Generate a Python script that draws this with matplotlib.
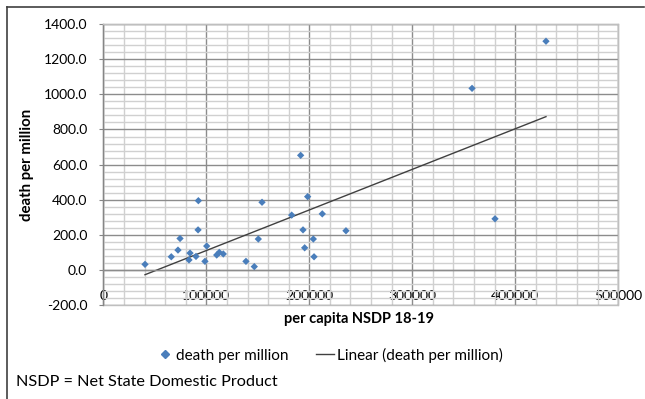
import numpy as np
import matplotlib
matplotlib.use("Agg")
import matplotlib.pyplot as plt
from matplotlib.ticker import MultipleLocator, FuncFormatter
from matplotlib.lines import Line2D

plt.rcParams['font.family'] = ['Lato', 'DejaVu Sans']

# per capita NSDP 18-19
nsdp = [40500, 66000, 72500, 74500, 83200, 84200, 90000, 92000, 92300, 98700,
        100400, 110100, 112600, 116500, 138500, 146600, 150500, 154100, 182900, 191600,
        193900, 195500, 198400, 203900, 204600, 212600, 235600, 358000, 380300, 429800]
# death per million
deaths = [33, 76, 114, 180, 58, 97, 78, 229, 395, 50,
          137, 86, 101, 92, 50, 20, 177, 386, 313, 653,
          229, 127, 418, 177, 76, 320, 224, 1034, 292, 1302]

x_label = "per capita NSDP 18-19"
y_label = "death per million"
series_name = "death per million"
trend_name = "Linear (death per million)"
footnote = "NSDP = Net State Domestic Product"

W, H = 645, 399
fig = plt.figure(figsize=(W / 100, H / 100), dpi=100)
ax = fig.add_axes([103.3 / W, 1 - 305.3 / H, (618.3 - 103.3) / W, (305.3 - 24) / H])

x = np.array(nsdp, dtype=float)
y = np.array(deaths, dtype=float)

ax.set_xlim(0, 500000)
ax.set_ylim(-200, 1400)

ax.xaxis.set_major_locator(MultipleLocator(100000))
ax.xaxis.set_minor_locator(MultipleLocator(20000))
ax.yaxis.set_major_locator(MultipleLocator(200))
ax.yaxis.set_minor_locator(MultipleLocator(40))

ax.grid(which='minor', color='#d0d0d0', linewidth=1.0, zorder=0)
ax.grid(which='major', color='#8c8c8c', linewidth=1.0, zorder=0)
ax.set_axisbelow(True)

ax.yaxis.set_major_formatter(FuncFormatter(lambda v, p: f"{v:.1f}"))
ax.xaxis.set_major_formatter(FuncFormatter(lambda v, p: f"{int(v)}"))

for s in ['top', 'right']:
    ax.spines[s].set_color('#bfbfbf')
    ax.spines[s].set_linewidth(1.0)
ax.spines['left'].set_color('#868686')
ax.spines['left'].set_linewidth(1.0)
ax.spines['bottom'].set_position(('data', 0))
ax.spines['bottom'].set_color('#8c8c8c')
ax.spines['bottom'].set_linewidth(1.0)
ax.patch.set_edgecolor('#bfbfbf')
ax.patch.set_linewidth(1.0)

ax.tick_params(axis='y', which='major', direction='out', length=3, color='#868686',
               pad=8.5, labelsize=10, labelcolor='black')
ax.tick_params(axis='y', which='minor', length=0)
ax.tick_params(axis='x', which='both', length=0, pad=14, labelsize=10, labelcolor='black')

ax.scatter(x, y, marker='D', s=14, color='#4a7ebb', edgecolors='none', zorder=3)

coef = np.polyfit(x, y, 1)
xs = np.array([x.min(), x.max()])
ax.plot(xs, np.polyval(coef, xs), color='#404040', linewidth=1.0, zorder=2)

fig.text(359.5 / W, 1 - 319 / H, x_label, ha='center', va='center', fontsize=10.5, fontweight='bold')
fig.text(27 / W, 1 - 164.5 / H, y_label, ha='center', va='center', rotation=90,
         fontsize=10.8, fontweight='bold')

handles = [Line2D([], [], marker='D', linestyle='none', color='#4a7ebb', markersize=3.8),
           Line2D([], [], color='#404040', linewidth=1.0)]
fig.legend(handles, [series_name, trend_name], loc='center', bbox_to_anchor=(329 / W, 1 - 355 / H),
           ncol=2, frameon=False, fontsize=11, handlelength=1.2, handletextpad=0.15,
           columnspacing=1.8, borderpad=0, borderaxespad=0)

fig.text(16.5 / W, 1 - 382 / H, footnote, ha='left', va='center', fontsize=11.7)

# outer chart frame
fig.add_artist(Line2D([7 / W, 7 / W], [0, 1 - 6.5 / H], transform=fig.transFigure,
                      color='#404040', linewidth=1.2))
fig.add_artist(Line2D([7 / W, 644 / W], [1 - 6.5 / H, 1 - 6.5 / H], transform=fig.transFigure,
                      color='#404040', linewidth=1.2))

fig.savefig("out.png", dpi=100)
